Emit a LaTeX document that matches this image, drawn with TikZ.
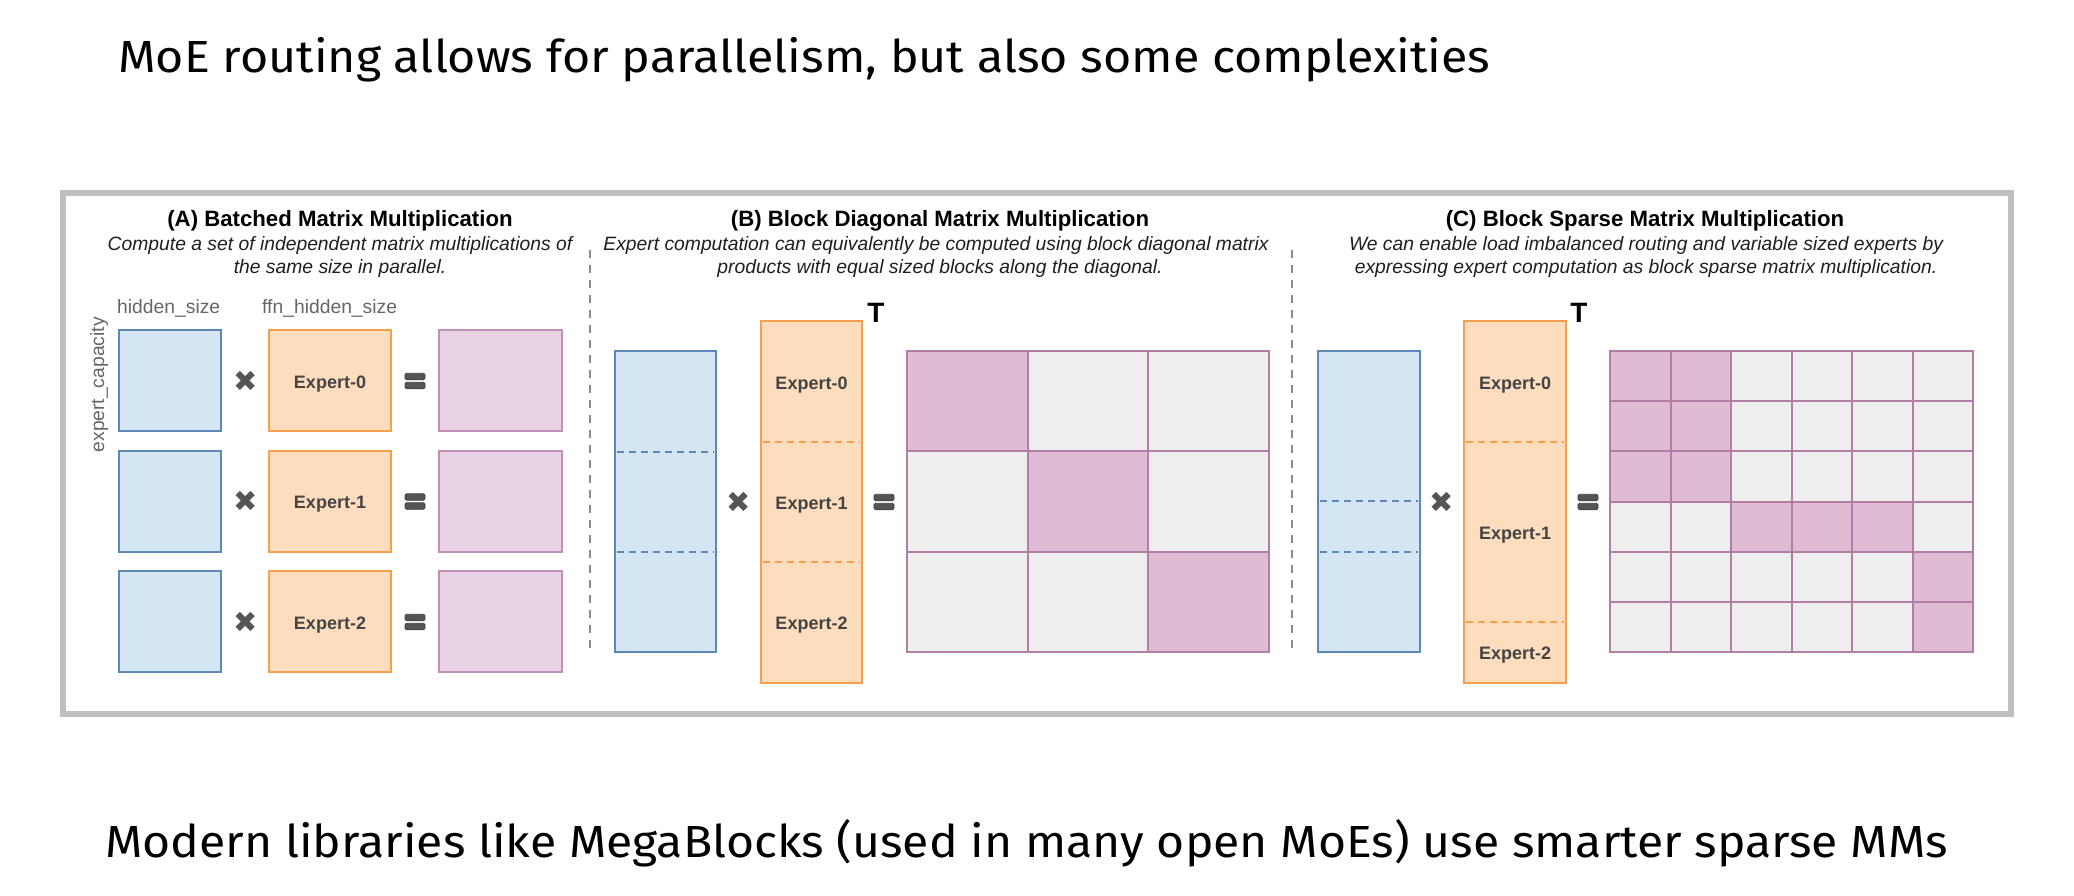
\documentclass[tikz,border=0pt]{standalone}
\usepackage{fontspec}
\usepackage{graphicx}
\setmainfont{Liberation Sans}
\newfontfamily\firafont{Fira Sans}
\newfontfamily\dejavufont{DejaVu Sans}
\definecolor{blueF}{HTML}{D4E5F4}
\definecolor{blueS}{HTML}{5E88B8}
\definecolor{orangeF}{HTML}{FEDDBF}
\definecolor{orangeS}{HTML}{F6A04D}
\definecolor{pinkF}{HTML}{E8D2E3}
\definecolor{pinkS}{HTML}{C28FB6}
\definecolor{gridPink}{HTML}{E0BCD4}
\definecolor{gridGray}{HTML}{EEEEEE}
\definecolor{gridLine}{HTML}{B47DA6}
\definecolor{crossC}{HTML}{555555}
\definecolor{sepC}{HTML}{8C8C8C}
\definecolor{frameC}{HTML}{BFBFBF}
\definecolor{labelC}{HTML}{444444}
\definecolor{dimC}{HTML}{666666}
\tikzset{
  box/.style={rectangle, inner sep=0pt, outer sep=0pt, line width=2pt, anchor=north west},
  bluebox/.style={box, draw=blueS, fill=blueF},
  orangebox/.style={box, draw=orangeS, fill=orangeF},
  pinkbox/.style={box, draw=pinkS, fill=pinkF},
  cellbox/.style={box, draw=gridLine},
  bluedash/.style={blueS, line width=2pt, dash pattern=on 7pt off 5pt},
  orangedash/.style={orangeS, line width=2pt, dash pattern=on 7pt off 5pt},
  sepline/.style={sepC, line width=2pt, dash pattern=on 8pt off 7pt},
  ttl/.style={anchor=base, inner sep=0pt, font=\bfseries\fontsize{22.2}{26}\selectfont, text=black},
  sub/.style={anchor=base, inner sep=0pt, font=\itshape\fontsize{19.3}{22}\selectfont, text=black!88},
  dimlabel/.style={anchor=base west, inner sep=0pt, font=\fontsize{19.3}{22}\selectfont, text=dimC},
  elabel/.style={anchor=base, inner sep=0pt, font=\bfseries\fontsize{18}{21}\selectfont, text=labelC},
  tlabel/.style={anchor=base, inner sep=0pt, font=\bfseries\fontsize{28}{32}\selectfont, text=black},
  crosssym/.style={inner sep=0pt, font=\dejavufont\fontsize{29}{29}\selectfont, text=crossC},
  eqbar/.style={rectangle, rounded corners=1.5pt, minimum width=20pt, minimum height=6.5pt, inner sep=0pt, fill=crossC, draw=black!75, line width=0.8pt},
  headline/.style={anchor=base west, inner sep=0pt, font=\firafont\fontsize{45}{54}\selectfont, text=black}
}
\begin{document}
\begin{tikzpicture}[x=1pt,y=-1pt]
\useasboundingbox (0,0) rectangle (2074,896);
\fill[white] (0,0) rectangle (2074,896);

% headlines
\node[headline] (head) at (118,72.7) {\resizebox{1372pt}{\height}{MoE routing allows for parallelism, but also some complexities}};
\node[headline] (foot) at (105,857) {\resizebox{1843pt}{\height}{Modern libraries like MegaBlocks (used in many open MoEs) use smarter sparse MMs}};

% frame
\node[box, draw=frameC, line width=6pt, minimum width=1948pt, minimum height=521pt] (frame) at (63,193) {};

% separators
\coordinate (s1a) at (590,250); \coordinate (s1b) at (590,648);
\coordinate (s2a) at (1292,250); \coordinate (s2b) at (1292,648);
\draw[sepline] (s1a) -- (s1b);
\draw[sepline] (s2a) -- (s2b);

% ===== Panel A =====
\node[ttl] (tA) at (340,226) {(A) Batched Matrix Multiplication};
\node[sub] (sA1) at (340,251) {Compute a set of independent matrix multiplications of};
\node[sub] (sA2) at (340,273) {the same size in parallel.};
\node[dimlabel] (hs) at (117,313) {hidden\_size};
\node[dimlabel] (fhs) at (262,313) {ffn\_hidden\_size};
\node[inner sep=0pt, rotate=90, anchor=base east, font=\fontsize{19.3}{22}\selectfont, text=dimC] (ec) at (104,317) {expert\_capacity};

\foreach \i/\y in {0/330,1/450.5,2/571} {
  \node[bluebox, minimum width=102pt, minimum height=101pt] (aB\i) at (119,\y) {};
  \node[orangebox, minimum width=122pt, minimum height=101pt] (aO\i) at (269,\y) {};
  \node[pinkbox, minimum width=123pt, minimum height=101pt] (aP\i) at (439,\y) {};
  \node[elabel] (aL\i) at (330,\y+58) {Expert-\i};
  \node[crosssym] (aX\i) at (246,\y+51) {✖};
  \node[eqbar] (aE\i a) at (415,\y+46.5) {};
  \node[eqbar] (aE\i b) at (415,\y+55.5) {};
}

% ===== Panel B =====
\node[ttl] (tB) at (940,226) {(B) Block Diagonal Matrix Multiplication};
\node[sub] (sB1) at (936,251) {Expert computation can equivalently be computed using block diagonal matrix};
\node[sub] (sB2) at (940,273) {products with equal sized blocks along the diagonal.};

\node[bluebox, minimum width=101pt, minimum height=301pt] (bB) at (615,351) {};
\coordinate (bBd1l) at (617,452); \coordinate (bBd1r) at (714,452);
\coordinate (bBd2l) at (617,552); \coordinate (bBd2r) at (714,552);
\draw[bluedash] (bBd1l) -- (bBd1r);
\draw[bluedash] (bBd2l) -- (bBd2r);

\node[orangebox, minimum width=101pt, minimum height=362pt] (bO) at (761,321) {};
\coordinate (bOd1l) at (763,442); \coordinate (bOd1r) at (860,442);
\coordinate (bOd2l) at (763,562); \coordinate (bOd2r) at (860,562);
\draw[orangedash] (bOd1l) -- (bOd1r);
\draw[orangedash] (bOd2l) -- (bOd2r);
\node[elabel] (bL0) at (811.5,389) {Expert-0};
\node[elabel] (bL1) at (811.5,509) {Expert-1};
\node[elabel] (bL2) at (811.5,629) {Expert-2};
\node[tlabel] (bT) at (876,322) {T};
\node[crosssym] (bX) at (739,502) {✖};
\node[eqbar] (bEa) at (884,497.5) {};
\node[eqbar] (bEb) at (884,506.5) {};

\foreach \r in {0,1,2} {
  \foreach \c in {0,1,2} {
    \ifnum\r=\c\def\cf{gridPink}\else\def\cf{gridGray}\fi
    \node[cellbox, fill=\cf, minimum width=120.67pt, minimum height=100.33pt] (gB-\r-\c) at ({907+\c*120.67},{351+\r*100.33}) {};
  }
}

% ===== Panel C =====
\node[ttl] (tC) at (1645,226) {(C) Block Sparse Matrix Multiplication};
\node[sub] (sC1) at (1646,251) {We can enable load imbalanced routing and variable sized experts by};
\node[sub] (sC2) at (1646,273) {expressing expert computation as block sparse matrix multiplication.};

\node[bluebox, minimum width=102pt, minimum height=301pt] (cB) at (1318,351) {};
\coordinate (cBd1l) at (1320,501); \coordinate (cBd1r) at (1418,501);
\coordinate (cBd2l) at (1320,552); \coordinate (cBd2r) at (1418,552);
\draw[bluedash] (cBd1l) -- (cBd1r);
\draw[bluedash] (cBd2l) -- (cBd2r);

\node[orangebox, minimum width=102pt, minimum height=362pt] (cO) at (1464,321) {};
\coordinate (cOd1l) at (1466,442); \coordinate (cOd1r) at (1564,442);
\coordinate (cOd2l) at (1466,622); \coordinate (cOd2r) at (1564,622);
\draw[orangedash] (cOd1l) -- (cOd1r);
\draw[orangedash] (cOd2l) -- (cOd2r);
\node[elabel] (cL0) at (1515,389) {Expert-0};
\node[elabel] (cL1) at (1515,539) {Expert-1};
\node[elabel] (cL2) at (1515,659) {Expert-2};
\node[tlabel] (cT) at (1579,322) {T};
\node[crosssym] (cX) at (1442,502) {✖};
\node[eqbar] (cEa) at (1588,497.5) {};
\node[eqbar] (cEb) at (1588,506.5) {};

\foreach \r in {0,...,5} {
  \foreach \c in {0,...,5} {
    \node[cellbox, fill=gridGray, minimum width=60.5pt, minimum height=50.17pt] (gC-\r-\c) at ({1610+\c*60.5},{351+\r*50.17}) {};
  }
}
\foreach \r/\c in {0/0,0/1,1/0,1/1,2/0,2/1,3/2,3/3,3/4,4/5,5/5} {
  \node[cellbox, fill=gridPink, minimum width=60.5pt, minimum height=50.17pt] (pC-\r-\c) at ({1610+\c*60.5},{351+\r*50.17}) {};
}
\end{tikzpicture}
\end{document}
